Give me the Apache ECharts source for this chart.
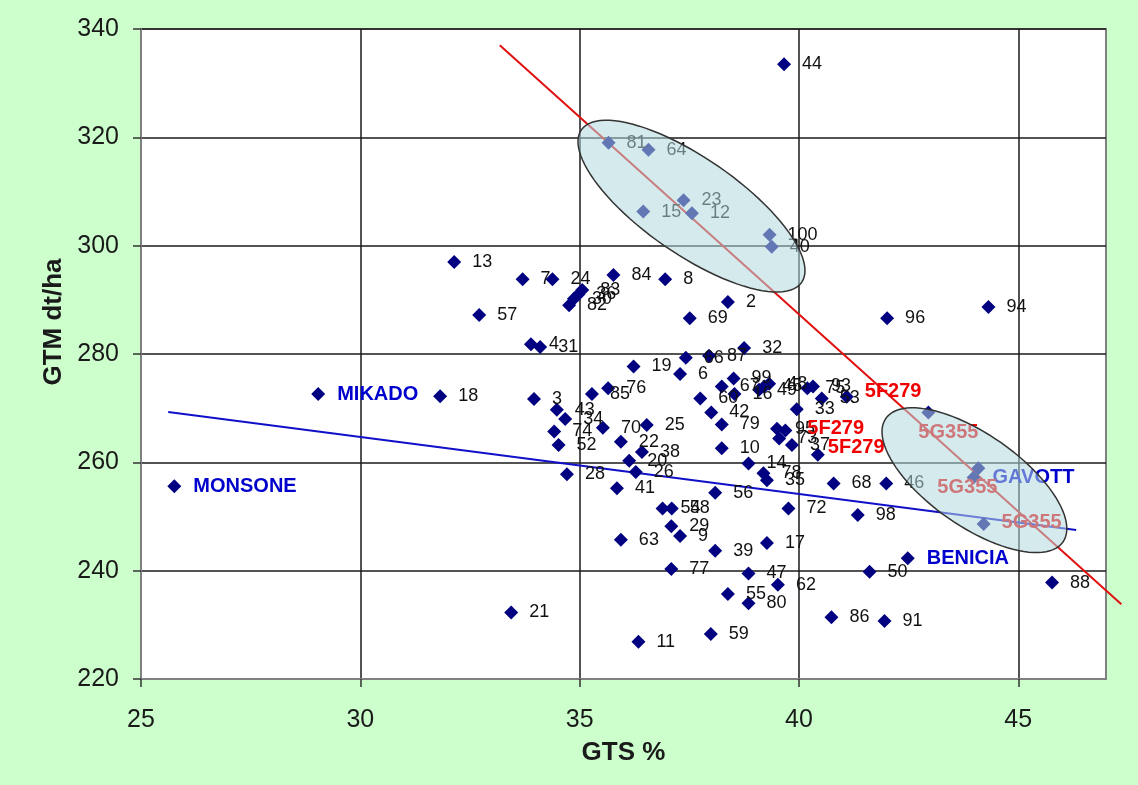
<!DOCTYPE html>
<html>
<head>
<meta charset="utf-8">
<script src="https://cdn.jsdelivr.net/npm/echarts@6/dist/echarts.min.js"></script>
<style>
html,body{margin:0;padding:0;background:#ccffcc;}
#chart{width:1138px;height:785px;}
</style>
</head>
<body>
<div id="chart"></div>
<script>
// ---- DATA ----
var xTicks = [25, 30, 35, 40, 45];
var yTicks = [220, 240, 260, 280, 300, 320, 340];

var cloneIds = ['44','81','64','23','15','12','100','40','13','7','24','84','8','82','30','36','83','2','69','57','96','94','4','31','32','66','87','19','6','18','3','85','76','99','67','16','60','42','79','10','49','45','48','33','75','93','53','43','34','74','52','70','25','22','38','20','26','28','41','56','95','73','37','14','78','35','68','46','72','54','58','98','29','9','63','39','17','50','77','47','62','88','55','80','21','86','91','11','59'];
var cloneGTS = [39.66,35.66,36.57,37.37,36.45,37.56,39.33,39.38,32.14,33.70,34.38,35.77,36.95,34.76,34.87,34.97,35.06,38.38,37.51,32.71,42.01,44.32,33.89,34.10,38.75,37.42,37.95,36.23,37.29,31.82,33.96,35.28,35.65,38.51,38.24,38.53,37.75,38.00,38.24,38.24,39.09,39.21,39.32,39.95,40.19,40.32,40.52,34.48,34.67,34.42,34.52,35.53,36.53,35.94,36.42,36.13,36.28,34.71,35.85,38.09,39.50,39.55,39.84,38.85,39.19,39.27,40.79,41.99,39.76,36.89,37.10,41.34,37.09,37.29,35.94,38.09,39.27,41.61,37.09,38.85,39.52,45.77,38.38,38.85,33.44,40.74,41.95,36.34,37.99];
var cloneGTM = [333.5,319.0,317.7,308.4,306.3,306.0,302.0,299.8,297.0,293.8,293.8,294.6,293.8,289.0,290.2,291.0,291.8,289.6,286.6,287.2,286.6,288.7,281.8,281.3,281.1,279.3,279.7,277.7,276.3,272.2,271.7,272.6,273.7,275.5,274.0,272.6,271.8,269.2,267.0,262.6,273.4,274.0,274.5,269.8,273.7,274.0,271.8,269.7,268.0,265.7,263.2,266.4,266.9,263.8,261.9,260.3,258.2,257.8,255.2,254.4,266.2,264.4,263.2,259.8,258.0,256.7,256.1,256.1,251.5,251.5,251.5,250.3,248.2,246.4,245.7,243.7,245.1,239.8,240.3,239.5,237.4,237.8,235.7,234.0,232.3,231.4,230.7,226.9,228.3];

var blueNames = ['MIKADO','MONSONE','GAVOTT','BENICIA'];
var blueGTS = [29.04, 25.76, 43.98, 42.48];
var blueGTM = [272.6, 255.6, 257.2, 242.3];

var f279Names = ['5F279','5F279','5F279'];
var f279GTS = [41.09, 39.69, 40.43];
var f279GTM = [272.1, 265.9, 261.4];

var g355Names = ['5G355','5G355','5G355'];
var g355GTS = [42.95, 44.09, 44.21];
var g355GTM = [269.2, 258.9, 248.6];

var redLineGTS = [33.18, 47.35];
var redLineGTM = [337.0, 233.8];
var blueLineGTS = [25.62, 46.32];
var blueLineGTM = [269.3, 247.5];

var ellipseGTS = [37.55, 44.0];
var ellipseGTM = [307.3, 256.7];

// ---- STYLE (not data) ----
var ellipseShape = [{a:134, b:48, angle:34.7}, {a:108, b:46, angle:34.9}];
var f279Offsets = [[0,-5],[4,-2],[-8,-7]];
var g355Offsets = [[-28,20],[-59,19],[0,-2]];
var lineColors = ['#e01010', '#1010c8'];

function zip(xs, ys){ return xs.map(function(v,i){ return [v, ys[i]]; }); }

var markerStyle = {color:'#000080', opacity:1};
var sym = 'diamond', symSize = 14;
var FONT = 'Liberation Sans, Arial, sans-serif';

var option = {
  backgroundColor: '#ccffcc',
  animation: false,
  grid: {left:141, top:29, width:965, height:650, show:true, backgroundColor:'#ffffff', borderColor:'#808080', borderWidth:2},
  xAxis: {
    type:'value', min:25, max:47, interval:5,
    name:'GTS %', nameLocation:'middle', nameGap:61,
    nameTextStyle:{fontFamily:FONT, fontWeight:'bold', fontSize:26, color:'#1a1a1a'},
    axisLine:{show:true, lineStyle:{color:'#808080', width:2}},
    axisTick:{show:true, length:8, customValues:xTicks, lineStyle:{color:'#333', width:1.5}},
    axisLabel:{margin:29, customValues:xTicks, fontFamily:FONT, fontSize:25, color:'#1a1a1a'},
    splitLine:{show:true, lineStyle:{color:'#1a1a1a', width:1.5}}
  },
  yAxis: {
    type:'value', min:220, max:340, interval:20,
    name:'GTM dt/ha', nameLocation:'middle', nameGap:71,
    nameTextStyle:{fontFamily:FONT, fontWeight:'bold', fontSize:26, color:'#1a1a1a', padding:[0,0,0,64]},
    axisLine:{show:true, lineStyle:{color:'#808080', width:2}},
    axisTick:{show:true, length:8, lineStyle:{color:'#333', width:1.5}},
    axisLabel:{margin:22, fontFamily:FONT, fontSize:25, color:'#1a1a1a'},
    splitLine:{show:true, lineStyle:{color:'#1a1a1a', width:1.5}}
  },
  series: [
    {type:'custom', z:3, silent:true, clip:false,
     data:[[redLineGTS[0], redLineGTM[0], redLineGTS[1], redLineGTM[1]],
           [blueLineGTS[0], blueLineGTM[0], blueLineGTS[1], blueLineGTM[1]]],
     renderItem:function(params, api){
       var p1 = api.coord([api.value(0), api.value(1)]);
       var p2 = api.coord([api.value(2), api.value(3)]);
       return {type:'line', shape:{x1:p1[0], y1:p1[1], x2:p2[0], y2:p2[1]},
         style:{stroke:lineColors[params.dataIndex], lineWidth:2}};
     }},
    {type:'scatter', z:4, symbol:sym, symbolSize:symSize, itemStyle:markerStyle,
     data: zip(cloneGTS, cloneGTM).map(function(p,i){ return {value:p, name:cloneIds[i]}; }),
     label:{show:true, position:'right', distance:11, formatter:'{b}',
       fontFamily:FONT, fontSize:18, color:'#111'},
     labelLayout:{hideOverlap:false}},
    {type:'scatter', z:4, symbol:sym, symbolSize:symSize, itemStyle:markerStyle,
     data: zip(blueGTS, blueGTM).map(function(p,i){ return {value:p, name:blueNames[i]}; }),
     label:{show:true, position:'right', distance:12, formatter:'{b}',
       fontFamily:FONT, fontWeight:'bold', fontSize:20, color:'#0000cc'}},
    {type:'scatter', z:4, symbol:sym, symbolSize:symSize, itemStyle:markerStyle,
     data: zip(f279GTS, f279GTM).map(function(p,i){ return {value:p, name:f279Names[i], label:{offset:f279Offsets[i]}}; }),
     label:{show:true, position:'right', distance:11, formatter:'{b}',
       fontFamily:FONT, fontWeight:'bold', fontSize:20, color:'#f00000'}},
    {type:'scatter', z:4, symbol:sym, symbolSize:symSize, itemStyle:markerStyle,
     data: zip(g355GTS, g355GTM).map(function(p,i){ return {value:p, name:g355Names[i], label:{offset:g355Offsets[i]}}; }),
     label:{show:true, position:'right', distance:11, formatter:'{b}',
       fontFamily:FONT, fontWeight:'bold', fontSize:20, color:'#f00000'}},
    {type:'custom', z:20, silent:true, clip:false,
     data: zip(ellipseGTS, ellipseGTM),
     renderItem:function(params, api){
       var c = api.coord([api.value(0), api.value(1)]);
       var s = ellipseShape[params.dataIndex];
       var t = s.angle*Math.PI/180, pts = [];
       for (var k=0;k<96;k++){
         var u = k/96*2*Math.PI;
         var ex = s.a*Math.cos(u), ey = s.b*Math.sin(u);
         pts.push([c[0] + ex*Math.cos(t) - ey*Math.sin(t), c[1] + ex*Math.sin(t) + ey*Math.cos(t)]);
       }
       return {type:'polygon', shape:{points:pts}, z2:100,
         style:{fill:'rgba(178,216,222,0.55)', stroke:'#333333', lineWidth:1.5}};
     }}
  ]
};

var chart = echarts.init(document.getElementById('chart'), null, {renderer:'canvas'});
chart.setOption(option);
</script>
</body>
</html>
